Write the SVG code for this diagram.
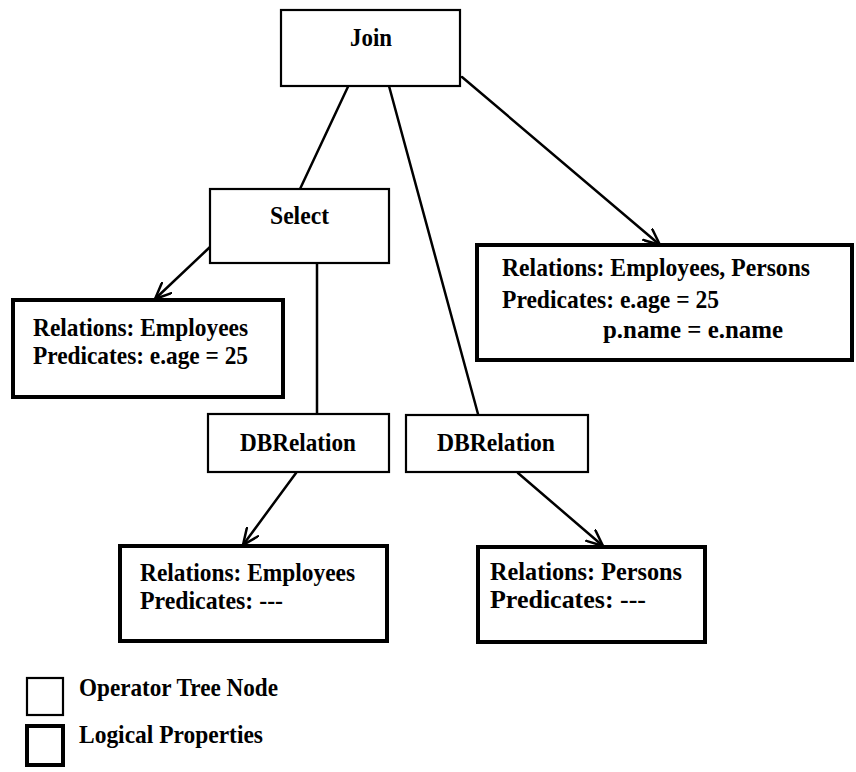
<svg xmlns="http://www.w3.org/2000/svg" width="856" height="772" viewBox="0 0 856 772">
  <style>
    .op { fill: #fff; stroke: #000; stroke-width: 2.2; }
    .lp { fill: #fff; stroke: #000; stroke-width: 4; }
    .edge { fill: none; stroke: #000; stroke-width: 2.5; stroke-linecap: round; }
    text { font-family: "Liberation Serif", "Times New Roman", serif; font-weight: bold; font-size: 25px; fill: #000; }
  </style>
  <defs>
    <marker id="arrow" markerUnits="userSpaceOnUse" viewBox="0 0 18 16" refX="17" refY="8" markerWidth="18" markerHeight="16" orient="auto">
      <path d="M1,1 L17,8 L1,15" fill="none" stroke="#000" stroke-width="2.5" stroke-linecap="round" stroke-linejoin="miter"/>
    </marker>
  </defs>

  <!-- connectors -->
  <g id="connectors">
    <line class="edge" x1="353" y1="76" x2="300" y2="189"/>
    <line class="edge" x1="389" y1="86" x2="478" y2="414"/>
    <line class="edge" x1="462" y1="77" x2="660" y2="245" marker-end="url(#arrow)"/>
    <line class="edge" x1="210" y1="247" x2="155" y2="299" marker-end="url(#arrow)"/>
    <line class="edge" x1="317" y1="263" x2="317" y2="414"/>
    <line class="edge" x1="296" y1="473" x2="243" y2="545" marker-end="url(#arrow)"/>
    <line class="edge" x1="518" y1="473" x2="603" y2="546" marker-end="url(#arrow)"/>
  </g>

  <!-- operator tree nodes -->
  <g id="join">
    <rect class="op" x="281" y="10" width="179" height="76"/>
    <text x="350" y="46" textLength="42" lengthAdjust="spacingAndGlyphs">Join</text>
  </g>
  <g id="select">
    <rect class="op" x="210" y="189" width="179" height="74"/>
    <text x="270" y="224" textLength="59" lengthAdjust="spacingAndGlyphs">Select</text>
  </g>
  <g id="dbrelation-employees">
    <rect class="op" x="208" y="414" width="181" height="58"/>
    <text x="240" y="451" textLength="116" lengthAdjust="spacingAndGlyphs">DBRelation</text>
  </g>
  <g id="dbrelation-persons">
    <rect class="op" x="406" y="415" width="182" height="57"/>
    <text x="437" y="451" textLength="118" lengthAdjust="spacingAndGlyphs">DBRelation</text>
  </g>

  <!-- logical properties -->
  <g id="props-join">
    <rect class="lp" x="477" y="245" width="375" height="115"/>
    <text x="502" y="276" textLength="308" lengthAdjust="spacingAndGlyphs">Relations: Employees, Persons</text>
    <text x="502" y="308" textLength="217" lengthAdjust="spacingAndGlyphs">Predicates: e.age = 25</text>
    <text x="603" y="338" textLength="180" lengthAdjust="spacingAndGlyphs">p.name = e.name</text>
  </g>
  <g id="props-select">
    <rect class="lp" x="13" y="300" width="270" height="97"/>
    <text x="33" y="336" textLength="215" lengthAdjust="spacingAndGlyphs">Relations: Employees</text>
    <text x="33" y="364" textLength="215" lengthAdjust="spacingAndGlyphs">Predicates: e.age = 25</text>
  </g>
  <g id="props-employees">
    <rect class="lp" x="120" y="546" width="267" height="95"/>
    <text x="140" y="581" textLength="215" lengthAdjust="spacingAndGlyphs">Relations: Employees</text>
    <text x="140" y="609" textLength="143" lengthAdjust="spacingAndGlyphs">Predicates: ---</text>
  </g>
  <g id="props-persons">
    <rect class="lp" x="478" y="547" width="227" height="95"/>
    <text x="490" y="580" textLength="192" lengthAdjust="spacingAndGlyphs">Relations: Persons</text>
    <text x="490" y="608" textLength="156" lengthAdjust="spacingAndGlyphs">Predicates: ---</text>
  </g>

  <!-- legend -->
  <g id="legend-operator">
    <rect class="op" x="27" y="678" width="36" height="37"/>
    <text x="79" y="696" textLength="199" lengthAdjust="spacingAndGlyphs">Operator Tree Node</text>
  </g>
  <g id="legend-properties">
    <rect class="lp" x="27" y="726" width="36" height="39"/>
    <text x="79" y="743" textLength="184" lengthAdjust="spacingAndGlyphs">Logical Properties</text>
  </g>
</svg>
